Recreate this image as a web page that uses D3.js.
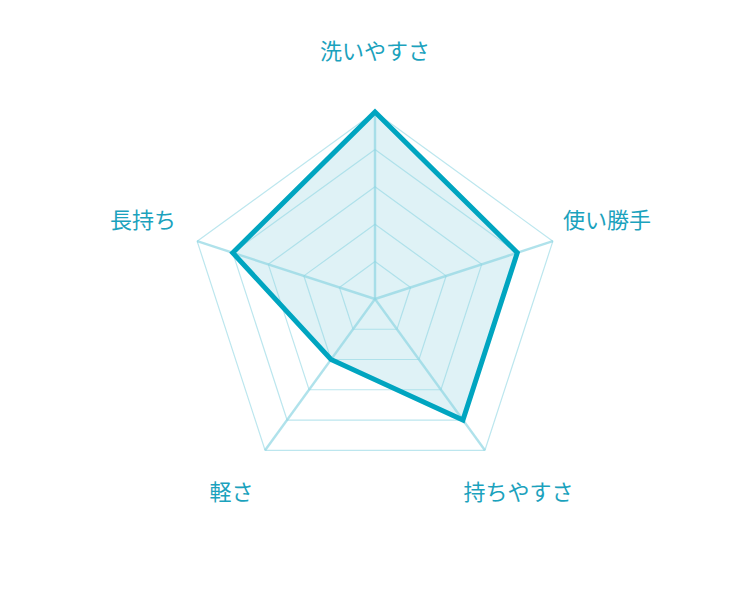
<!DOCTYPE html>
<html>
<head>
<meta charset="utf-8">
<script src="https://cdn.jsdelivr.net/npm/d3@7"></script>
<style>
  body { margin: 0; background: #fff; }
</style>
</head>
<body>
<script>
var w = 750;
var h = 600;
var cx = 375, cy = 299;
var R = 187; // outer radius

var labels = ["洗いやすさ", "使い勝手", "持ちやすさ", "軽さ", "長持ち"];
var values = [5, 4, 4, 2, 4];
var levels = [1, 2, 3, 4, 5];
var maxValue = 5;

var svg = d3.select("body")
    .append("svg")
    .attr("width", w)
    .attr("height", h);

var g = svg.append("g").attr("transform", "translate(" + cx + "," + cy + ")");

var angle = d3.scaleLinear()
    .domain([0, labels.length])
    .range([0, 2 * Math.PI]);

var r = d3.scaleLinear()
    .domain([0, maxValue])
    .range([0, R]);

var line = d3.lineRadial()
    .angle(function(d, i) { return angle(i); })
    .radius(function(d) { return r(d); })
    .curve(d3.curveLinearClosed);

function pt(i, rad) {
    var a = angle(i) - Math.PI / 2;
    return [rad * Math.cos(a), rad * Math.sin(a)];
}

// data fill (under the grid so the grid shows through)
g.append("path")
    .attr("d", line(values))
    .attr("fill", "#dff2f6")
    .attr("stroke", "none");

// grid rings
g.selectAll(".ring")
    .data(levels)
    .enter().append("path")
    .attr("class", "ring")
    .attr("d", function(l) { return line(labels.map(function() { return l; })); })
    .attr("fill", "none")
    .attr("stroke", "#8fd6e3")
    .attr("stroke-opacity", 0.6)
    .attr("stroke-width", 1.2);

// spokes
g.selectAll(".spoke")
    .data(labels)
    .enter().append("line")
    .attr("class", "spoke")
    .attr("x1", 0).attr("y1", 0)
    .attr("x2", function(d, i) { return pt(i, R)[0]; })
    .attr("y2", function(d, i) { return pt(i, R)[1]; })
    .attr("stroke", "#8fd6e3")
    .attr("stroke-opacity", 0.7)
    .attr("stroke-width", 2.4);

// data outline
g.append("path")
    .attr("d", line(values))
    .attr("fill", "none")
    .attr("stroke", "#00a5c0")
    .attr("stroke-width", 5)
    .attr("stroke-linejoin", "miter");

// labels
g.selectAll(".label")
    .data(labels)
    .enter().append("text")
    .attr("class", "label")
    .attr("x", function(d, i) { return pt(i, 244)[0]; })
    .attr("y", function(d, i) { return pt(i, 244)[1] - 6; })
    .attr("text-anchor", "middle")
    .attr("dominant-baseline", "central")
    .attr("font-family", "'Noto Sans CJK JP', 'Noto Sans', sans-serif")
    .attr("font-size", 22)
    .attr("fill", "#1ba2bd")
    .text(function(d) { return d; });
</script>
</body>
</html>
